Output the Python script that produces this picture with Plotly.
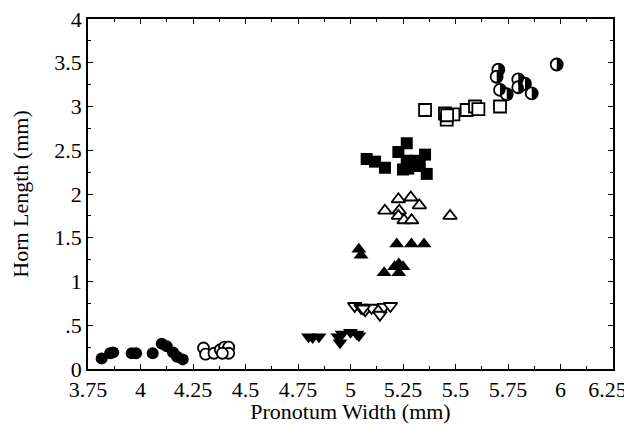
import plotly.graph_objects as go

# Filled circles
fc_x = [3.815, 3.855, 3.87, 3.958, 3.979, 4.058, 4.101, 4.125, 4.155, 4.174, 4.201]
fc_y = [0.12, 0.18, 0.19, 0.18, 0.18, 0.18, 0.29, 0.26, 0.19, 0.14, 0.11]
# Open circles
oc_x = [4.30, 4.31, 4.35, 4.38, 4.40, 4.42, 4.42, 4.39]
oc_y = [0.24, 0.17, 0.18, 0.22, 0.25, 0.25, 0.18, 0.18]
# Filled down triangles
fd_x = [4.80, 4.82, 4.85, 4.94, 4.95, 4.96, 5.00, 5.03, 5.04]
fd_y = [0.37, 0.36, 0.37, 0.37, 0.30, 0.40, 0.42, 0.40, 0.38]
# Open down triangles
od_x = [5.02, 5.05, 5.07, 5.10, 5.14, 5.16, 5.19, 5.06]
od_y = [0.72, 0.70, 0.67, 0.70, 0.62, 0.71, 0.72, 0.69]
# Filled up triangles
fu_x = [5.04, 5.05, 5.16, 5.21, 5.23, 5.25, 5.23, 5.22, 5.29, 5.35]
fu_y = [1.37, 1.30, 1.10, 1.17, 1.20, 1.17, 1.10, 1.43, 1.43, 1.43]
# Open up triangles
ou_x = [5.164, 5.228, 5.287, 5.328, 5.232, 5.228, 5.255, 5.291, 5.474]
ou_y = [1.81, 1.94, 1.96, 1.87, 1.81, 1.75, 1.70, 1.70, 1.75]
# Filled squares
fs_x = [5.077, 5.117, 5.164, 5.228, 5.268, 5.268, 5.275, 5.25, 5.31, 5.355, 5.363, 5.33]
fs_y = [2.40, 2.37, 2.30, 2.48, 2.58, 2.38, 2.29, 2.28, 2.38, 2.45, 2.23, 2.32]
# Open squares
os_x = [5.355, 5.45, 5.458, 5.49, 5.46, 5.553, 5.593, 5.609, 5.712]
os_y = [2.96, 2.92, 2.85, 2.91, 2.90, 2.96, 3.00, 2.97, 3.00]
# Half-filled circles
hc_x = [5.704, 5.696, 5.712, 5.744, 5.799, 5.799, 5.831, 5.863, 5.982]
hc_y = [3.42, 3.34, 3.19, 3.14, 3.31, 3.22, 3.26, 3.15, 3.48]

x_ticks = [3.75, 4, 4.25, 4.5, 4.75, 5, 5.25, 5.5, 5.75, 6, 6.25]
x_labels = ["3.75", "4", "4.25", "4.5", "4.75", "5", "5.25", "5.5", "5.75", "6", "6.25\u2002"]
y_ticks = [0, 0.5, 1, 1.5, 2, 2.5, 3, 3.5, 4]
y_labels = ["0", ".5", "1", "1.5", "2", "2.5", "3", "3.5", "4"]

fig = go.Figure()

def add(x, y, symbol, size, filled=True):
    fig.add_trace(go.Scatter(
        x=x, y=y, mode="markers",
        marker=dict(symbol=symbol, size=size,
                    color="black" if filled else "white",
                    line=dict(color="black", width=0 if filled else 1.8)),
        showlegend=False, hoverinfo="skip"))

add(fc_x, fc_y, "circle", 12)
add(oc_x, oc_y, "circle", 11, filled=False)
add(fd_x, fd_y, "triangle-down", 13)
add(od_x, od_y, "triangle-down", 12, filled=False)
add(fu_x, fu_y, "triangle-up", 13)
add(ou_x, ou_y, "triangle-up", 12, filled=False)
add(fs_x, fs_y, "square", 12)
add(os_x, os_y, "square", 12, filled=False)
add(hc_x, hc_y, "circle", 12, filled=False)

# right half of the half-filled circles, drawn as pixel-size shapes anchored at data points
r = 5.5
c = 0.5523 * r
half_path = (f"M0,{r} C{c},{r} {r},{c} {r},0 C{r},{-c} {c},{-r} 0,{-r} Z")
for xv, yv in zip(hc_x, hc_y):
    fig.add_shape(type="path", xref="x", yref="y", xsizemode="pixel", ysizemode="pixel",
                  xanchor=xv, yanchor=yv, path=half_path,
                  fillcolor="black", line=dict(width=0), layer="above")

font = dict(family="Liberation Serif", size=22, color="black")

# the page body adds an 8px offset, so the figure is 8px smaller on each axis
fig.update_layout(
    width=624, height=416,
    margin=dict(l=80, r=19, t=11, b=55),
    paper_bgcolor="white", plot_bgcolor="white",
    font=font,
    xaxis=dict(range=[3.75, 6.25], tickmode="array", tickvals=x_ticks, ticktext=x_labels,
               ticks="inside", ticklen=5, tickwidth=1, tickcolor="black",
               showline=True, linecolor="black", linewidth=1.5, mirror="allticks",
               showgrid=False, zeroline=False, automargin=False,
               ticklabeloverflow="allow",
               minor=dict(tickmode="linear", tick0=3.75, dtick=0.125, ticks="inside",
                          ticklen=3, tickcolor="black", showgrid=False),
               title=dict(text="Pronotum Width (mm)", font=font, standoff=0),
               tickfont=font),
    yaxis=dict(range=[0, 4], tickmode="array", tickvals=y_ticks, ticktext=y_labels,
               ticks="inside", ticklen=5, tickwidth=1, tickcolor="black",
               showline=True, linecolor="black", linewidth=1.5, mirror="allticks",
               showgrid=False, zeroline=False, automargin=False,
               ticklabeloverflow="allow",
               minor=dict(tickmode="linear", tick0=0, dtick=0.25, ticks="inside",
                          ticklen=3, tickcolor="black", showgrid=False),
               title=dict(text="Horn Length (mm)", font=font, standoff=22),
               tickfont=font),
)

fig.write_html("out.html")
